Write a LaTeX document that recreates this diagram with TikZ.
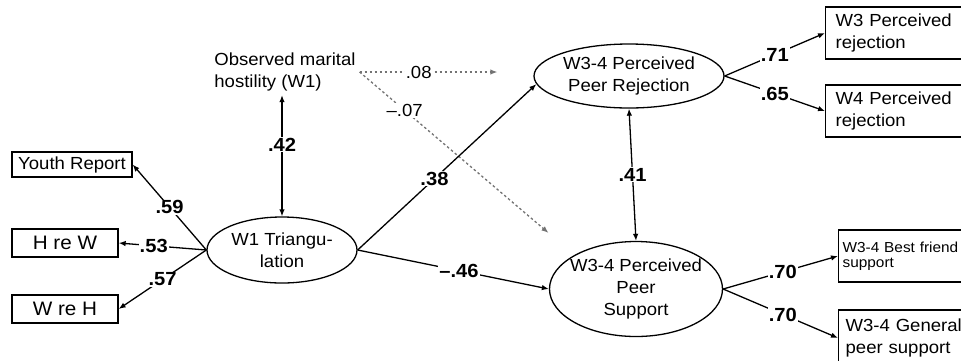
\documentclass[tikz,border=0pt]{standalone}
\usepackage{fontspec}
\setmainfont[FakeStretch=1.06]{Liberation Sans}
\usetikzlibrary{shapes.geometric}
\usetikzlibrary{arrows.meta}

\begin{document}
\begin{tikzpicture}
	[x=1pt, y=-1pt, line width=1.3pt, >={Latex[length=7pt,width=5.5pt]},
	font=\fontsize{17.5}{22}\selectfont,
	lat/.style = {draw, ellipse, inner sep=0pt},
	ind/.style = {draw, rectangle, inner sep=0pt},
	wide/.style = {draw, rectangle, anchor=west, text width=140pt, align=left, minimum height=52pt, inner xsep=10pt, inner ysep=0pt},
	lab/.style = {fill=white, inner sep=1pt, font=\fontsize{19}{20}\selectfont\bfseries},
	nlab/.style = {fill=white, inner sep=1pt, font=\fontsize{17.5}{20}\selectfont},
	dot/.style = {->, draw=black!55, line width=1.3pt, dash pattern=on 2.5pt off 2.5pt}]
	\useasboundingbox (0,0) rectangle (961,360);
	\clip (0,0) rectangle (961,360);
	\node[lat, minimum width=150pt, minimum height=66pt, label={[align=center]center:W1 Triangu-\\lation}] (tri) at (282,250) {};
	\node[align=left] (host) at (285,72) {Observed marital\\hostility (W1)};
	\node[lat, minimum width=190pt, minimum height=64pt, label={[align=center]center:W3-4 Perceived\\Peer Rejection}] (rej) at (629,76) {};
	\node[lat, minimum width=173pt, minimum height=95pt, label={[align=center]center:W3-4 Perceived\\Peer\\Support}] (sup) at (636,289) {};
	\node[ind, minimum width=120pt, minimum height=25pt] (yr) at (72,164.5) {Youth Report};
	\node[ind, minimum width=106pt, minimum height=28pt, font=\fontsize{19.5}{22}\selectfont] (hw) at (65,243) {H re W};
	\node[ind, minimum width=106pt, minimum height=28pt, font=\fontsize{19.5}{22}\selectfont] (wh) at (65,309) {W re H};
	\node[wide] (w3) at (825,33) {W3 Perceived\\rejection};
	\node[wide] (w4) at (825,111) {W4 Perceived\\rejection};
	\node[wide, inner xsep=4pt, font=\fontsize{14.5}{15}\selectfont] (bf) at (838,256) {W3-4 Best friend\\support};
	\node[wide, inner xsep=7pt, minimum height=56pt] (gp) at (838,338) {W3-4 General\\peer support};
	% indicators of triangulation
	\draw[->] (tri.west) -- node[lab] {.59} (yr.east);
	\draw[->] (tri.west) -- node[lab, pos=0.6] {.53} (hw.east);
	\draw[->] (tri.west) -- node[lab] {.57} (wh.east);
	\draw[<->] (host.south -| tri.north) -- node[lab, pos=0.41] {.42} (tri.north);
	% paths
	\draw[dot, shorten >=36pt] (host.east) -- node[nlab, pos=0.34] {.08} (host.east -| rej.west);
	\draw[dot, shorten >=34pt] (host.east) -- node[nlab, pos=0.21] {--.07} (sup.north west);
	\draw[->] (tri.east) -- node[lab, pos=0.43] {.38} (rej.185);
	\draw[->] (tri.east) -- node[lab, pos=0.53] {--.46} (sup.west);
	\draw[<->] (rej.south) -- node[lab] {.41} (sup.north);
	% indicators of outcomes
	\draw[->] (rej.east) -- node[lab] {.71} (w3.west);
	\draw[->] (rej.east) -- node[lab] {.65} (w4.west);
	\draw[->] (sup.east) -- node[lab, pos=0.52] {.70} (bf.west);
	\draw[->] (sup.east) -- node[lab, pos=0.52] {.70} (gp.west);
\end{tikzpicture}
\end{document}
